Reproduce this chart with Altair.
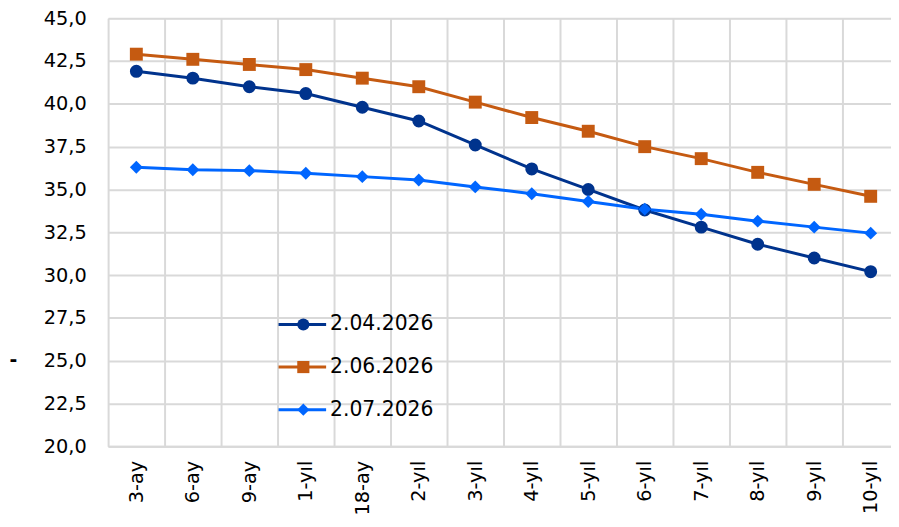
import json
import altair as alt
import pandas as pd

terms = ["3-ay", "6-ay", "9-ay", "1-yıl", "18-ay", "2-yıl", "3-yıl", "4-yıl",
         "5-yıl", "6-yıl", "7-yıl", "8-yıl", "9-yıl", "10-yıl"]
series_names = ["2.04.2026", "2.06.2026", "2.07.2026"]
s_0204 = [41.9, 41.5, 41.0, 40.6, 39.8, 39.0, 37.6, 36.2, 35.0, 33.8, 32.8, 31.8, 31.0, 30.2]
s_0206 = [42.9, 42.6, 42.3, 42.0, 41.5, 41.0, 40.1, 39.2, 38.4, 37.5, 36.8, 36.0, 35.3, 34.6]
s_0207 = [36.3, 36.15, 36.1, 35.95, 35.75, 35.55, 35.15, 34.75, 34.3, 33.85, 33.55, 33.15, 32.8, 32.45]
y_ticks = [20.0, 22.5, 25.0, 27.5, 30.0, 32.5, 35.0, 37.5, 40.0, 42.5, 45.0]

colors = ["#00338d", "#c55a11", "#0066ff"]
shapes = ["circle", "square", "diamond"]

rows = []
for name, vals in zip(series_names, [s_0204, s_0206, s_0207]):
    for t, v in zip(terms, vals):
        rows.append({"term": t, "value": v, "series": name})
df = pd.DataFrame(rows)
leg = pd.DataFrame({"series": series_names})

FONT = "DejaVu Sans"
W, H = 790, 432
STEP = 57
terms_js = json.dumps(terms, ensure_ascii=False)
n = len(terms)

color_scale = alt.Scale(domain=series_names, range=colors)
shape_scale = alt.Scale(domain=series_names, range=shapes)
x_scale = alt.Scale(domain=[-0.5, -0.5 + W / STEP], nice=False, zero=False)

x_label_axis = alt.Axis(values=list(range(n)), labelExpr=f"{terms_js}[datum.value]",
                        orient="bottom", labelAngle=-90, labelAlign="right",
                        labelBaseline="middle", labelPadding=14, ticks=False, grid=False,
                        domainColor="#d9d9d9", domainWidth=2, labelFontSize=19.5,
                        labelFont=FONT, labelColor="#000000", title=None)
x_grid_axis = alt.Axis(values=[i + 0.5 for i in range(n - 1)], orient="bottom",
                       labels=False, ticks=False, domain=False, grid=True,
                       gridColor="#d9d9d9", gridWidth=2, title=None)

y_enc = alt.Y(
    "value:Q",
    scale=alt.Scale(domain=[20, 45], nice=False, zero=False),
    axis=alt.Axis(values=y_ticks, labelExpr="replace(format(datum.value, '.1f'), '.', ',')",
                  ticks=False, labelPadding=22, gridColor="#d9d9d9", gridWidth=2,
                  domainColor="#d9d9d9", domainWidth=2, labelFontSize=19.5,
                  labelFont=FONT, labelColor="#000000",
                  title="-", titleAngle=0, titleX=-96, titleY=344,
                  titleAlign="center", titleBaseline="middle", titleFontSize=19,
                  titleFont=FONT, titleFontWeight="bold", titleColor="#000000"),
)

base = alt.Chart(df).transform_calculate(
    idx=f"indexof({terms_js}, datum.term)"
).encode(
    y=y_enc,
    color=alt.Color("series:N", scale=color_scale, legend=None),
)
lines = base.mark_line(strokeWidth=3).encode(
    x=alt.X("idx:Q", scale=x_scale, axis=x_grid_axis))
points = base.mark_point(filled=True, opacity=1, size=170).encode(
    x=alt.X("idx:Q", scale=x_scale, axis=x_label_axis),
    shape=alt.Shape("series:N", scale=shape_scale, legend=None)
)

leg_y = alt.Y("series:N", sort=series_names,
              scale=alt.Scale(type="point", range=[309, 395], padding=0), axis=None)
leg_base = alt.Chart(leg).encode(y=leg_y)
leg_line = leg_base.mark_rule(strokeWidth=3).encode(
    x=alt.value(172), x2=alt.value(220),
    color=alt.Color("series:N", scale=color_scale, legend=None))
leg_pt = leg_base.mark_point(filled=True, opacity=1, size=150).encode(
    x=alt.value(197),
    color=alt.Color("series:N", scale=color_scale, legend=None),
    shape=alt.Shape("series:N", scale=shape_scale, legend=None))
leg_txt = leg_base.mark_text(align="left", baseline="middle", fontSize=20.5,
                             font=FONT, color="#000000").encode(
    x=alt.value(224), text="series:N")

main = alt.layer(lines, points).resolve_axis(x="independent")
legend = alt.layer(leg_line, leg_pt, leg_txt)

chart = alt.layer(main, legend).resolve_scale(y="independent").properties(
    width=W, height=H,
    autosize=alt.AutoSizeParams(type="none"),
    padding={"left": 101, "top": 8, "right": 0, "bottom": 71},
).configure_view(stroke=None).configure(background="#ffffff")

chart.save("out.html", embed_options={"renderer": "svg", "actions": False})
